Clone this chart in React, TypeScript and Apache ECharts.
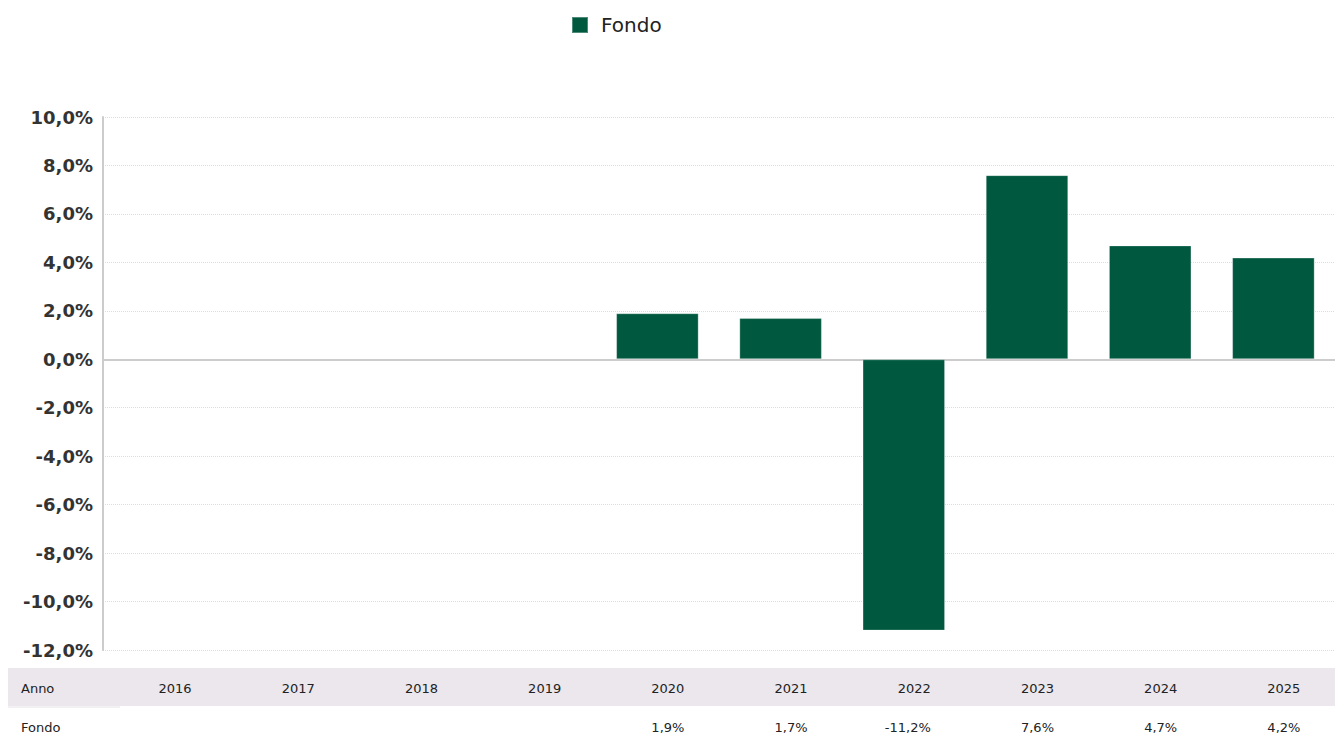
import React, { useEffect, useRef } from "react";
import * as echarts from "echarts";

const years = ["2016", "2017", "2018", "2019", "2020", "2021", "2022", "2023", "2024", "2025"];
const fondo: (number | null)[] = [null, null, null, null, 1.9, 1.7, -11.2, 7.6, 4.7, 4.2];
const yMin = -12;
const yMax = 10;
const yStep = 2;
const seriesName = "Fondo";
const rowHeader = "Anno";

const FONT = "'DejaVu Sans', Verdana, sans-serif";
const GREEN = "#00583f";

const fmt = (v: number) => v.toFixed(1).replace(".", ",") + "%";

export default function App() {
  const ref = useRef<HTMLDivElement>(null);
  useEffect(() => {
    if (!ref.current) return;
    const chart = echarts.init(ref.current, undefined, { renderer: "svg" });
    chart.setOption({
      animation: false,
      legend: {
        left: 566,
        top: 10,
        itemWidth: 16,
        itemHeight: 16,
        icon: "rect",
        data: [seriesName],
        textStyle: { fontFamily: FONT, fontSize: 20, color: "#222", padding: [0, 0, 0, 8] },
      },
      grid: { left: 103, right: 0, top: 117, bottom: 86, containLabel: false },
      xAxis: {
        type: "category",
        data: years,
        axisLine: { onZero: true, lineStyle: { color: "#cccccc", width: 2 } },
        axisTick: { show: false },
        axisLabel: { show: false },
        splitLine: { show: false },
      },
      yAxis: {
        type: "value",
        min: yMin,
        max: yMax,
        interval: yStep,
        axisLine: { show: true, lineStyle: { color: "#cccccc", width: 2 } },
        axisTick: { show: false },
        axisLabel: {
          formatter: (v: number) => fmt(v),
          fontFamily: FONT,
          fontSize: 18,
          fontWeight: "bold",
          color: "#333",
          margin: 10,
        },
        splitLine: { show: true, lineStyle: { color: "#dddddd", type: "dotted", width: 1 } },
      },
      series: [
        {
          name: seriesName,
          type: "bar",
          data: fondo,
          barWidth: "67%",
          itemStyle: { color: GREEN, borderColor: "rgba(255,255,255,0.3)", borderWidth: 1 },
        },
      ],
    });

    const xs = years.map((_, i) => (chart.convertToPixel({ gridIndex: 0 }, [i, 0]) as number[])[0]);
    const textStyle = { fontFamily: FONT, fontSize: 13, fill: "#222" };
    const graphics: any[] = [
      { type: "rect", shape: { x: 8, y: 668, width: 1327, height: 38 }, style: { fill: "#ebe7ed" }, silent: true },
      { type: "rect", shape: { x: 8, y: 706, width: 112, height: 2 }, style: { fill: "#f3f0f4" }, silent: true },
      { type: "text", x: 21, y: 688, style: { ...textStyle, text: rowHeader, textVerticalAlign: "middle", verticalAlign: "middle" } },
      { type: "text", x: 21, y: 727, style: { ...textStyle, text: seriesName, textVerticalAlign: "middle", verticalAlign: "middle" } },
    ];
    years.forEach((y, i) => {
      graphics.push({
        type: "text",
        x: xs[i] + 27,
        y: 688,
        style: { ...textStyle, text: y, align: "right", textAlign: "right", verticalAlign: "middle", textVerticalAlign: "middle" },
      });
      const v = fondo[i];
      if (v !== null) {
        graphics.push({
          type: "text",
          x: xs[i] + 27,
          y: 727,
          style: { ...textStyle, text: fmt(v), align: "right", textAlign: "right", verticalAlign: "middle", textVerticalAlign: "middle" },
        });
      }
    });
    chart.setOption({ graphic: graphics });

    return () => chart.dispose();
  }, []);
  return (
    <div
      ref={ref}
      style={{ position: "absolute", left: 0, top: 0, width: 1335, height: 736, background: "#fff" }}
    />
  );
}
